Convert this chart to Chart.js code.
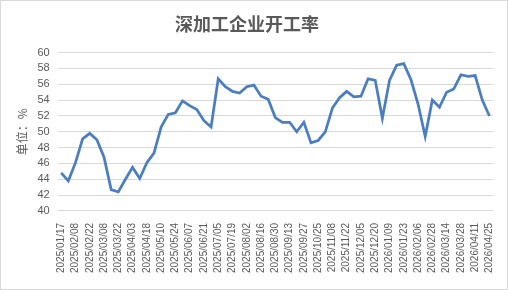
<!DOCTYPE html>
<html>
<head>
    <meta charset="utf-8">
    <title>深加工企业开工率</title>
    <style>
        body {
            margin: 0;
            background: #fff;
        }
        .chartBox {
            width: 508px;
            height: 290px;
            border: 1px solid #d9d9d9;
            box-sizing: border-box;
            background: #fff;
        }
    </style>
    <script src="https://cdn.jsdelivr.net/npm/chart.js"></script>
</head>
<body>
    <div class="chartBox">
        <canvas id="graph" width="506" height="288"></canvas>
    </div>

    <script>
        // weekly dates, only every second one is printed on the axis
        const dates = [
            '2025/01/17', '2025/01/24', '2025/02/08', '2025/02/15', '2025/02/22', '2025/03/01',
            '2025/03/08', '2025/03/15', '2025/03/22', '2025/03/28', '2025/04/03', '2025/04/11',
            '2025/04/18', '2025/04/25', '2025/05/10', '2025/05/17', '2025/05/24', '2025/05/31',
            '2025/06/07', '2025/06/14', '2025/06/21', '2025/06/28', '2025/07/05', '2025/07/12',
            '2025/07/19', '2025/07/26', '2025/08/02', '2025/08/09', '2025/08/16', '2025/08/23',
            '2025/08/30', '2025/09/06', '2025/09/13', '2025/09/20', '2025/09/27', '2025/10/11',
            '2025/10/25', '2025/11/01', '2025/11/08', '2025/11/15', '2025/11/22', '2025/11/29',
            '2025/12/05', '2025/12/12', '2025/12/20', '2025/12/27', '2026/01/09', '2026/01/16',
            '2026/01/23', '2026/01/30', '2026/02/06', '2026/02/13', '2026/02/28', '2026/03/07',
            '2026/03/14', '2026/03/21', '2026/03/28', '2026/04/04', '2026/04/11', '2026/04/18',
            '2026/04/25'
        ];

        // operating rate, %
        const rates = [
            44.8, 43.8, 46.1, 49.1, 49.8, 49.0, 46.8, 42.7, 42.4, 44.0,
            45.5, 44.1, 46.1, 47.3, 50.6, 52.2, 52.4, 53.9, 53.3, 52.8,
            51.4, 50.6, 56.7, 55.7, 55.1, 54.9, 55.7, 55.9, 54.5, 54.1,
            51.8, 51.2, 51.2, 50.0, 51.2, 48.6, 48.9, 50.0, 53.0, 54.3,
            55.1, 54.4, 54.5, 56.7, 56.5, 51.7, 56.5, 58.4, 58.6, 56.6,
            53.5, 49.4, 54.0, 53.1, 55.0, 55.4, 57.2, 57.0, 57.1, 54.0,
            52.0
        ];

        const yMin = 40;
        const yMax = 60;
        const yStep = 2;

        const textColor = '#595959';
        const gridColor = '#d9d9d9';

        const ctx = document.getElementById('graph').getContext('2d');

        new Chart(ctx, {
            type: 'line',
            data: {
                labels: dates,
                datasets: [{
                    label: '深加工企业开工率',
                    data: rates,
                    borderColor: '#4a7ebf',
                    borderWidth: 2.75,
                    pointRadius: 0,
                    tension: 0,
                    fill: false
                }]
            },
            options: {
                responsive: false,
                animation: false,
                layout: {
                    padding: { left: 0, right: 14, top: 0, bottom: 12 }
                },
                plugins: {
                    legend: { display: false },
                    tooltip: { enabled: false },
                    title: {
                        display: true,
                        text: '深加工企业开工率',
                        color: textColor,
                        font: { family: '"Noto Sans CJK SC"', size: 18, weight: 'bold' },
                        padding: { top: 12, bottom: 18 }
                    }
                },
                scales: {
                    x: {
                        offset: true,
                        grid: { display: false },
                        border: { display: false },
                        ticks: {
                            autoSkip: false,
                            maxRotation: 90,
                            minRotation: 90,
                            padding: 4,
                            color: textColor,
                            font: { family: '"Liberation Sans", Arial', size: 10 },
                            callback: function (value, index) {
                                return index % 2 === 0 ? this.getLabelForValue(value) : '';
                            }
                        }
                    },
                    y: {
                        min: yMin,
                        max: yMax,
                        border: { display: false },
                        grid: { color: gridColor, drawTicks: false },
                        ticks: {
                            stepSize: yStep,
                            autoSkip: false,
                            padding: 8,
                            color: textColor,
                            font: { family: '"Liberation Sans", Arial', size: 11 }
                        },
                        title: {
                            display: true,
                            text: '单位：%',
                            color: textColor,
                            font: { family: '"Noto Sans CJK SC"', size: 12 },
                            padding: { top: 14, bottom: 0 }
                        }
                    }
                }
            }
        });
    </script>
</body>
</html>
